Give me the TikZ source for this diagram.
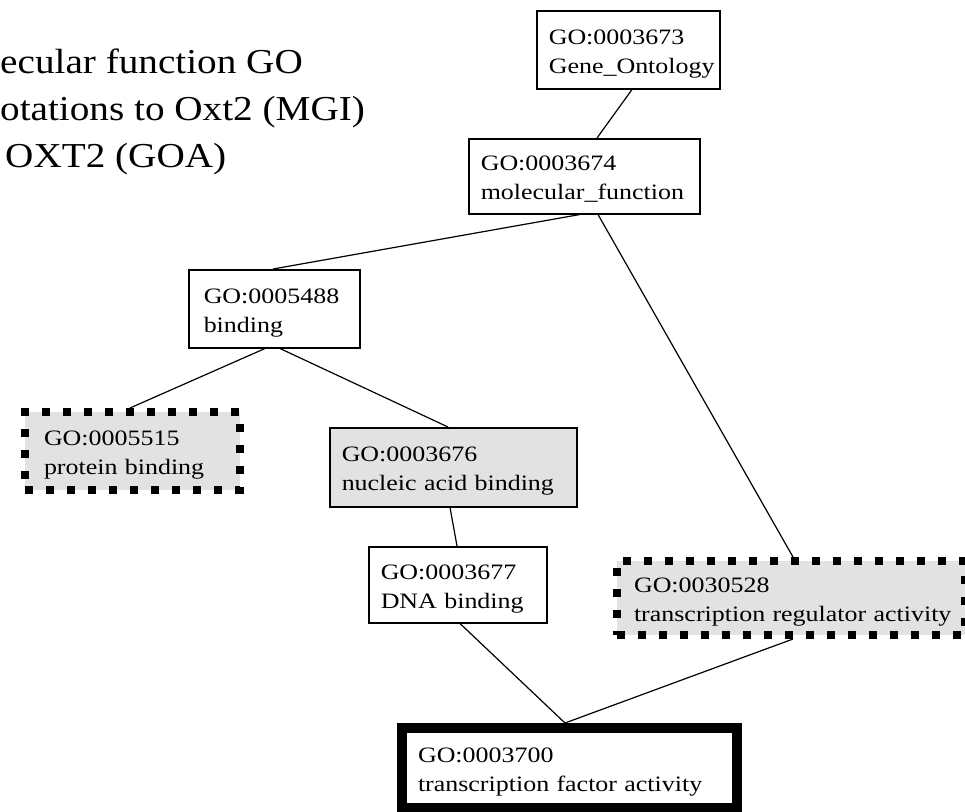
\documentclass[tikz,border=0pt]{standalone}
\usepackage{fontspec}
\setmainfont{Liberation Serif}
\newfontfamily\boxfont[FakeStretch=1.18]{Liberation Serif}
\newfontfamily\titlefont[FakeStretch=1.12]{Liberation Serif}
\usetikzlibrary{calc}
\definecolor{boxgray}{RGB}{226,226,226}
\newcommand{\twol}[2]{\mbox{#1}\\\mbox{#2}}
\tikzset{
  gobox/.style={draw=black, line width=1.5pt, rectangle, anchor=north west, align=left,
    inner xsep=12pt, inner ysep=0pt, text height=19pt, text depth=30pt,
    font=\boxfont\fontsize{22}{29}\selectfont},
  grayfill/.style={fill=boxgray},
  dotbox/.style={line width=8pt, dash pattern=on 8pt off 13pt, fill=boxgray},
  thickbox/.style={line width=10pt},
  edge/.style={draw=black, line width=1.2pt},
  titletext/.style={anchor=base west, inner sep=0pt, font=\titlefont\fontsize{35}{47}\selectfont},
}
\begin{document}
\begin{tikzpicture}[x=1pt,y=-1pt]
\useasboundingbox (0,0) rectangle (965,811);
% title
\node[titletext] (t1) at (0,73) {ecular function GO};
\node[titletext] (t2) at (0,120) {otations to Oxt2 (MGI)};
\node[titletext] (t3) at (5,167) {OXT2 (GOA)};
% boxes
\node[gobox, minimum width=183pt, minimum height=78pt, text width=159pt] (go3673) at (536,10) {\twol{GO:0003673}{Gene\_Ontology}};
\node[gobox, minimum width=231pt, minimum height=75pt, text width=207pt] (go3674) at (468,138) {\twol{GO:0003674}{molecular\_function}};
\node[gobox, inner xsep=15pt, minimum width=171pt, minimum height=78pt, text width=141pt] (go5488) at (188,269) {\twol{GO:0005488}{binding}};
\node[gobox, dotbox, inner xsep=19pt, minimum width=215pt, minimum height=78pt, text width=177pt] (go5515) at (21,408) {\twol{GO:0005515}{protein binding}};
\node[gobox, grayfill, minimum width=247pt, minimum height=79pt, text width=223pt] (go3676) at (329,427) {\twol{GO:0003676}{nucleic acid binding}};
\node[gobox, minimum width=178pt, minimum height=76pt, text width=154pt] (go3677) at (368,546) {\twol{GO:0003677}{DNA binding}};
\node[gobox, dotbox, inner xsep=17pt, minimum width=348pt, minimum height=74pt, text width=314pt] (go30528) at (613,557) {\twol{GO:0030528}{transcription regulator activity}};
\node[gobox, thickbox, inner xsep=16pt, minimum width=335pt, minimum height=80pt, text width=303pt] (go3700) at (397,723) {\twol{GO:0003700}{transcription factor activity}};
% edges
\draw[edge] ($(go3673.south west)+(96,0)$) -- ($(go3674.north west)+(129,0)$);
\draw[edge] ($(go3674.south west)+(112,0)$) -- ($(go5488.north west)+(85,0)$);
\draw[edge] ($(go3674.south west)+(130,0)$) -- ($(go30528.north west)+(180,0)$);
\draw[edge] ($(go5488.south west)+(77,0)$) -- ($(go5515.north west)+(109,0)$);
\draw[edge] ($(go5488.south west)+(92,0)$) -- ($(go3676.north west)+(119,0)$);
\draw[edge] ($(go3676.south west)+(121,0)$) -- ($(go3677.north west)+(89,0)$);
\draw[edge] ($(go3677.south west)+(92,0)$) -- ($(go3700.north west)+(168,0)$);
\draw[edge] ($(go30528.south west)+(180,0)$) -- ($(go3700.north west)+(168,0)$);
\end{tikzpicture}
\end{document}
